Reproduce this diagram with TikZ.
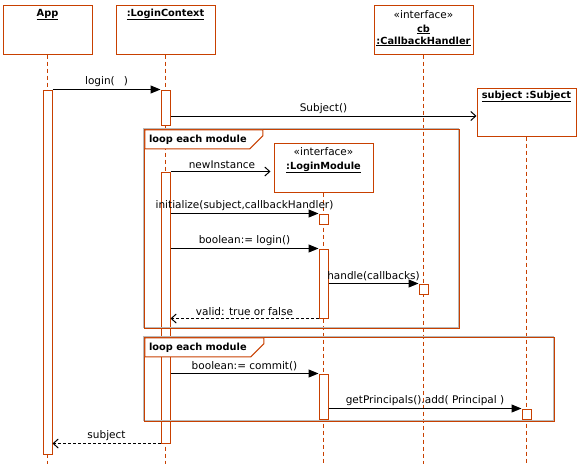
\documentclass[tikz,border=0pt]{standalone}
\usepackage{fontspec}
\setmainfont{DejaVu Sans}
\usetikzlibrary{arrows.meta}
\definecolor{brd}{RGB}{200,64,0}
\definecolor{shd}{RGB}{185,185,185}
\begin{document}
\begin{tikzpicture}[x=1pt,y=-1pt,
  obj/.style={draw=brd, line width=1pt, fill=white, minimum width=99pt, minimum height=49pt, inner sep=0pt},
  act/.style={draw=brd, line width=1pt, fill=white, minimum width=9pt, inner sep=0pt},
  lifeline/.style={draw=brd, line width=1pt, dash pattern=on 4pt off 3pt},
  frm/.style={draw=brd, line width=1pt, inner sep=0pt},
  msg/.style={draw=black, line width=1pt, -{Triangle[length=10pt,width=8pt]}},
  create/.style={draw=black, line width=1pt, -{Straight Barb[length=5pt,width=9pt]}},
  reply/.style={draw=black, line width=1pt, dash pattern=on 3pt off 2pt, -{Straight Barb[length=5pt,width=9pt]}},
  lbl/.style={midway, above, inner sep=2pt, font=\fontsize{10.5}{12}\selectfont},
  ttl/.style={font=\bfseries\fontsize{9.8}{11}\selectfont, inner sep=0pt},
  ster/.style={font=\fontsize{10.5}{12}\selectfont, inner sep=0pt},
]
\useasboundingbox (0,0) rectangle (581,464);

% object boxes (positions)
\path (47.5,29.5) node[obj, minimum width=89pt] (app) {};
\path (165.5,29.5) node[obj] (lc) {};
\path (423.5,29.5) node[obj] (cb) {};
\path (526.5,112) node[obj, minimum height=48pt] (sub) {};
\path (323.5,167.5) node[obj] (lm) {};

% lifeline ends
\coordinate (appE) at (47.5,464);
\coordinate (lcE) at (165.5,464);
\coordinate (cbE) at (423.5,464);
\coordinate (subE) at (526.5,464);
\coordinate (lmE) at (323.5,464);

\draw[lifeline] (app.south) -- (appE);
\draw[lifeline] (lc.south) -- (lcE);
\draw[lifeline] (cb.south) -- (cbE);
\draw[lifeline] (sub.south) -- (subE);
\draw[lifeline] (lm.south) -- (lmE);

% redraw boxes on top of lifelines
\node[obj, minimum width=89pt] at (app) {};
\node[obj] at (lc) {};
\node[obj] at (cb) {};
\node[obj, minimum height=48pt] at (sub) {};
\node[obj] at (lm) {};

% activations
\node[act, minimum height=364pt] (appA) at (47.5,272) {};
\node[act, minimum height=35pt] (lcA1) at (165.5,107.5) {};
\node[act, minimum height=271pt] (lcA2) at (165.5,307.5) {};
\node[act, minimum height=10pt] (lmA1) at (323.5,219) {};
\node[act, minimum height=69pt] (lmA2) at (323.5,283.5) {};
\node[act, minimum height=10pt] (cbA) at (423.5,289) {};
\node[act, minimum height=45pt] (lmA3) at (323.5,396.5) {};
\node[act, minimum height=10pt] (sbA) at (526.5,414) {};

% loop frames
\path (302,229) node[minimum width=314pt, minimum height=198pt, inner sep=0pt] (loopA) {};
\path (349.5,379.5) node[minimum width=409pt, minimum height=83pt, inner sep=0pt] (loopB) {};
\draw[shd, line width=1pt] ([shift={(-1pt,1pt)}]loopA.north west) rectangle ([shift={(-1pt,1pt)}]loopA.south east);
\draw[shd, line width=1pt] ([shift={(-1pt,1pt)}]loopB.north west) rectangle ([shift={(-1pt,1pt)}]loopB.south east);
\draw[frm] (loopA.north west) rectangle (loopA.south east);
\draw[frm] (loopB.north west) rectangle (loopB.south east);
\draw[frm, fill=white] (loopA.north west) -- ++(118,0) -- ++(0,6) -- ++(-13,13) -- ++(-105,0) -- cycle;
\draw[frm, fill=white] (loopB.north west) -- ++(119,0) -- ++(0,6) -- ++(-13,13) -- ++(-106,0) -- cycle;
\node[ttl, anchor=west] (loopAt) at ([shift={(4pt,-10pt)}]loopA.north west) {loop each module};
\node[ttl, anchor=west] (loopBt) at ([shift={(4pt,-10pt)}]loopB.north west) {loop each module};

% header texts
\node[ttl] (appT) at ([yshift=-10pt]app.north) {\underline{App}};
\node[ttl] (lcT) at ([yshift=-10pt]lc.north) {\underline{:LoginContext}};
\node[ster] (cbS) at ([yshift=-10pt]cb.north) {«interface»};
\node[ttl] (cbT1) at ([yshift=-25pt]cb.north) {\underline{cb}};
\node[ttl] (cbT2) at ([yshift=-37pt]cb.north) {\underline{:CallbackHandler}};
\node[ttl] (subT) at ([yshift=-9pt]sub.north) {\underline{subject :Subject}};
\node[ster] (lmS) at ([yshift=-9pt]lm.north) {«interface»};
\node[ttl] (lmT) at ([yshift=-25pt]lm.north) {\underline{:LoginModule}};

% messages
\draw[msg] (appA.east |- lcA1.north) -- node[lbl] {login(\hspace{9pt})} (lcA1.north west);
\path ([yshift=-8.5pt]lcA1.east) coordinate (s1);
\draw[create] (s1) -- node[lbl] {Subject()} (s1 -| sub.west);
\draw[create, shorten >=3pt] (lcA2.north east) -- node[lbl] {newInstance} (lcA2.north east -| lm.west);
\draw[msg] (lcA2.east |- lmA1.north) -- node[lbl] {initialize(subject,callbackHandler)} (lmA1.north west);
\draw[msg] (lcA2.east |- lmA2.north) -- node[lbl] {boolean:= login()} (lmA2.north west);
\draw[msg] (lmA2.east |- cbA.north) -- node[lbl] {handle(callbacks)} (cbA.north west);
\draw[reply] (lmA2.south west) -- node[lbl] {valid: true or false} (lmA2.south west -| lcA2.east);
\draw[msg] (lcA2.east |- lmA3.north) -- node[lbl] {boolean:= commit()} (lmA3.north west);
\draw[msg] (lmA3.east |- sbA.north) -- node[lbl] {getPrincipals().add( Principal )} (sbA.north west);
\draw[reply] (lcA2.south west) -- node[lbl] {subject} (lcA2.south west -| appA.east);
\end{tikzpicture}
\end{document}
